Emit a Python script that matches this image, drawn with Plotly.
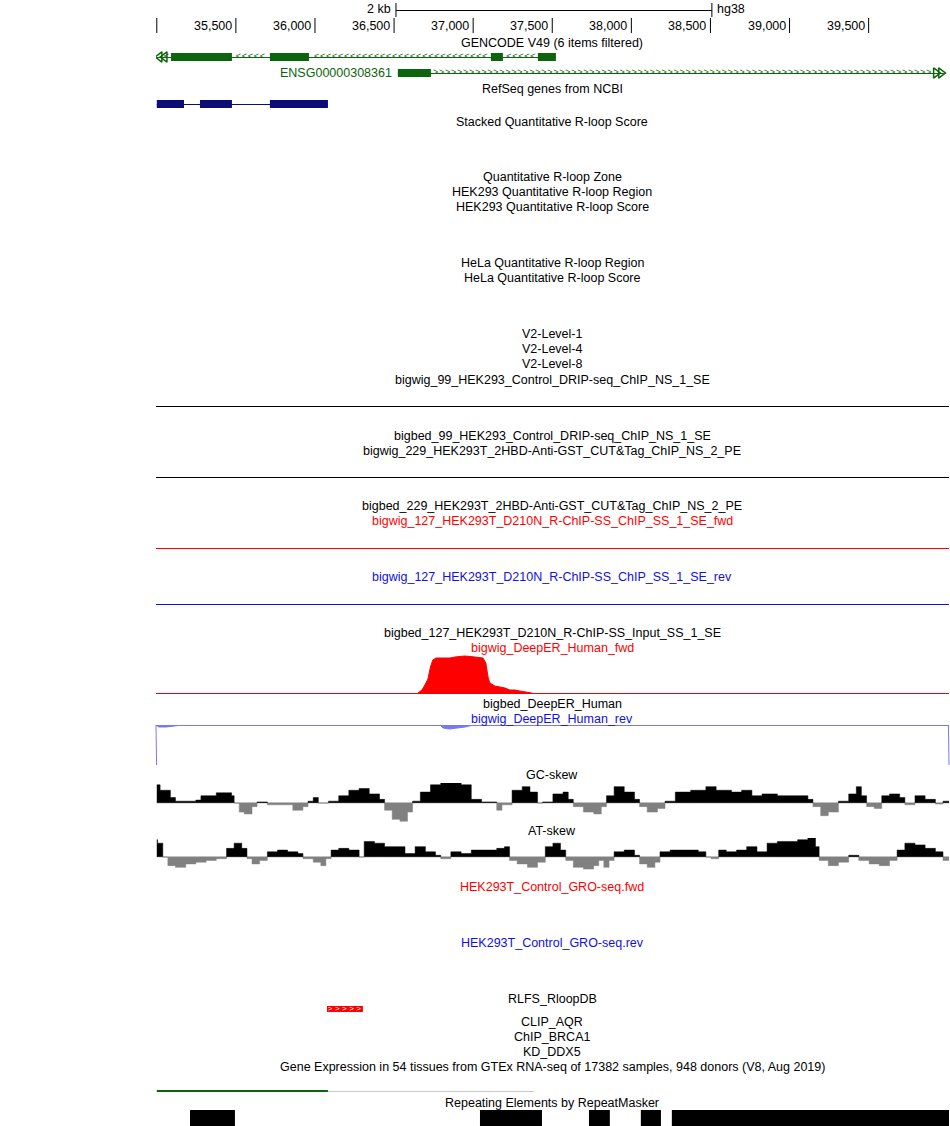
import numpy as np
import plotly.graph_objects as go

W, H = 950, 1126
X0, X1 = 34995, 40008
PX0, PX1 = 156, 949

# ---------------- data ----------------
tick_pos = [35000, 35500, 36000, 36500, 37000, 37500, 38000, 38500, 39000, 39500]
tick_lab = ["", "35,500", "36,000", "36,500", "37,000", "37,500", "38,000", "38,500", "39,000", "39,500"]
scale_bar = [36512, 38509]

gencode1_span = [35000, 37523]
gencode1_exons = [[35090, 35475], [35715, 35962], [37112, 37188], [37409, 37523]]
gencode2_span = [36524, 39975]
gencode2_exons = [[36524, 36733]]
gencode2_name = "ENSG00000308361"
refseq_span = [35000, 36082]
refseq_exons = [[35000, 35172], [35273, 35475], [35715, 36082]]

deeper_fwd_x = [36651, 36676, 36695, 36714, 36730, 36745, 36765, 36790, 36853, 36885, 36948, 37011,
                37062, 37080, 37095, 37106, 37137, 37169, 37201, 37232, 37264, 37295, 37327, 37371]
deeper_fwd_y = [0, 3, 8, 14, 26, 33, 35, 35, 35, 36, 37, 36, 35, 30, 15, 10, 7, 6, 5, 3, 3, 2, 1, 0]
deeper_rev_x = [35000, 35010, 35060, 35120, 35160, 36790, 36810, 36850, 36900, 36950, 37000, 40008]
deeper_rev_y = [0, -2, -2, -1, 0, 0, -3, -4, -3, -2, 0, 0]

gc_x = [35000, 35021, 35086, 35118, 35183, 35247, 35279, 35376, 35473, 35489, 35521, 35553, 35602, 35634,
        35699, 35795, 35860, 35924, 35956, 35989, 36021, 36085, 36150, 36214, 36279, 36343, 36408, 36440,
        36488, 36537, 36585, 36617, 36666, 36730, 36795, 36859, 36924, 36988, 37053, 37117, 37149, 37182,
        37246, 37310, 37359, 37407, 37439, 37504, 37568, 37601, 37633, 37697, 37762, 37810, 37843, 37891,
        37955, 38020, 38052, 38100, 38165, 38213, 38278, 38375, 38471, 38536, 38633, 38697, 38762, 38826,
        38923, 39019, 39116, 39148, 39197, 39245, 39309, 39374, 39422, 39454, 39487, 39535, 39583, 39632,
        39696, 39729, 39793, 39857, 39922, 39970, 40008]
gc_y = [50, 35, 15, 5, 5, 8, 20, 28, 20, 0, -25, -30, -10, 3,
        -5, -5, -20, -10, 5, 15, 0, 5, 20, 35, 40, 25, 10, -20,
        -45, -50, -25, 5, 30, 50, 60, 65, 50, 10, 3, 3, -20, -5,
        35, 45, 30, 0, 3, 25, 30, 10, -10, -25, -30, -10, 20, 45,
        30, 10, -10, -25, -15, 5, 30, 35, 45, 35, 30, 35, 20, 25,
        20, 20, 10, -10, -35, -25, 5, 25, 45, 20, -10, -15, 20, 25,
        15, -5, 20, 10, -3, 5, 3]

at_x = [35000, 35005, 35038, 35070, 35118, 35183, 35247, 35312, 35376, 35441, 35489, 35537, 35570, 35602,
        35650, 35699, 35763, 35827, 35892, 35924, 35989, 36037, 36069, 36102, 36150, 36214, 36279, 36311,
        36376, 36440, 36505, 36569, 36633, 36698, 36762, 36795, 36859, 36924, 36988, 37053, 37149, 37198,
        37230, 37278, 37343, 37407, 37456, 37504, 37552, 37585, 37633, 37697, 37762, 37794, 37826, 37859,
        37891, 37955, 38020, 38052, 38100, 38149, 38181, 38245, 38342, 38423, 38471, 38504, 38552, 38600,
        38665, 38729, 38794, 38858, 38923, 38987, 39051, 39116, 39164, 39187, 39245, 39309, 39374, 39438,
        39503, 39567, 39632, 39680, 39729, 39793, 39857, 39922, 39970, 40008]
at_y = [50, 40, 0, -25, -30, -20, -15, -10, -5, 25, 40, 25, -5, -20,
        -10, 15, 20, 15, 10, -5, -15, -25, -5, 20, 25, 20, 0, 45,
        40, 30, 30, 10, 30, 15, 5, -5, 15, 10, 20, 20, 25, 30,
        -10, -20, -30, -15, 30, 40, 20, -10, -30, -35, -25, -10, -30, -10,
        15, 20, 5, -20, -30, -15, 15, 20, 20, 15, 0, -5, 20, 15,
        20, 30, 15, 40, 45, 45, 50, 55, 30, -10, -25, -15, 5, -10,
        -20, -25, -10, 20, 40, 35, 25, 15, -10, -5]

rlfs = [[36076, 36303]]
gtex_green = [35000, 36082]
gtex_gray = [36082, 37384]
repeats = [[35210, 35494], [37043, 37435], [37732, 37864], [38060, 38187], [38256, 40008]]

labels = [
    (43, "GENCODE V49 (6 items filtered)", "black"),
    (89, "RefSeq genes from NCBI", "black"),
    (122, "Stacked Quantitative R-loop Score", "black"),
    (177, "Quantitative R-loop Zone", "black"),
    (192, "HEK293 Quantitative R-loop Region", "black"),
    (207, "HEK293 Quantitative R-loop Score", "black"),
    (263, "HeLa Quantitative R-loop Region", "black"),
    (278, "HeLa Quantitative R-loop Score", "black"),
    (334, "V2-Level-1", "black"),
    (349, "V2-Level-4", "black"),
    (364, "V2-Level-8", "black"),
    (380, "bigwig_99_HEK293_Control_DRIP-seq_ChIP_NS_1_SE", "black"),
    (436, "bigbed_99_HEK293_Control_DRIP-seq_ChIP_NS_1_SE", "black"),
    (451, "bigwig_229_HEK293T_2HBD-Anti-GST_CUT&Tag_ChIP_NS_2_PE", "black"),
    (506, "bigbed_229_HEK293T_2HBD-Anti-GST_CUT&Tag_ChIP_NS_2_PE", "black"),
    (521, "bigwig_127_HEK293T_D210N_R-ChIP-SS_ChIP_SS_1_SE_fwd", "red"),
    (577, "bigwig_127_HEK293T_D210N_R-ChIP-SS_ChIP_SS_1_SE_rev", "#1010e0"),
    (633, "bigbed_127_HEK293T_D210N_R-ChIP-SS_Input_SS_1_SE", "black"),
    (648, "bigwig_DeepER_Human_fwd", "red"),
    (704, "bigbed_DeepER_Human", "black"),
    (719, "bigwig_DeepER_Human_rev", "#1010e0"),
    (775, "GC-skew", "black"),
    (831, "AT-skew", "black"),
    (887, "HEK293T_Control_GRO-seq.fwd", "red"),
    (943, "HEK293T_Control_GRO-seq.rev", "#1010e0"),
    (999, "RLFS_RloopDB", "black"),
    (1022, "CLIP_AQR", "black"),
    (1037, "ChIP_BRCA1", "black"),
    (1052, "KD_DDX5", "black"),
    (1067, "Gene Expression in 54 tissues from GTEx RNA-seq of 17382 samples, 948 donors (V8, Aug 2019)", "black"),
    (1103, "Repeating Elements by RepeatMasker", "black"),
]
hlines = [(406, "black"), (477, "black"), (548, "red"), (604, "#1010e0")]

# ---------------- figure ----------------
FONT = "Liberation Sans"
FS = 12.5
GREEN = "#0c640c"
NAVY = "#0c0c78"

def dom(top_px, bot_px):
    return [(H - bot_px) / H, (H - top_px) / H]

fig = go.Figure()
shapes, anns = [], []

def rect(x0, x1, y0, y1, color, layer="above"):
    shapes.append(dict(type="rect", xref="x", yref="y", x0=x0, x1=x1, y0=y0, y1=y1,
                       fillcolor=color, line=dict(width=0), layer=layer))

def seg(x0, x1, y0, y1, color, width=1, xref="x"):
    off = 0.5 if y0 == y1 and width == 1 else 0
    shapes.append(dict(type="line", xref=xref, yref="y", x0=x0, x1=x1, y0=y0 + off, y1=y1 + off,
                       line=dict(color=color, width=width), layer="above"))

# scale bar
seg(scale_bar[0], scale_bar[1], 10, 10, "black")
seg(scale_bar[0], scale_bar[0], 3, 17, "black")
seg(scale_bar[1], scale_bar[1], 3, 17, "black")
anns.append(dict(x=scale_bar[0], y=9, xref="x", yref="y", text="2 kb", xanchor="right", xshift=-3,
                 showarrow=False, font=dict(size=FS, color="black", family=FONT)))
anns.append(dict(x=scale_bar[1], y=9, xref="x", yref="y", text="hg38", xanchor="left", xshift=3,
                 showarrow=False, font=dict(size=FS, color="black", family=FONT)))
for p, l in zip(tick_pos, tick_lab):
    seg(p, p, 18, 33, "black")
    if l:
        anns.append(dict(x=p, y=26, xref="x", yref="y", text=l, xanchor="right", xshift=-2,
                         showarrow=False, font=dict(size=FS, color="black", family=FONT)))

# GENCODE gene 1 (minus strand)
seg(gencode1_span[0], gencode1_span[1], 57, 57, GREEN)
for a, b in gencode1_exons:
    rect(a, b, 53, 61, GREEN)
cx = np.arange(gencode1_span[0] + 60, gencode1_span[1], 38)
cx = [c for c in cx if not any(a - 15 < c < b + 15 for a, b in gencode1_exons)]
fig.add_trace(go.Scatter(x=cx, y=[57] * len(cx), mode="text", text=["<"] * len(cx),
                         textfont=dict(size=9, color=GREEN, family=FONT), hoverinfo="skip", showlegend=False))
fig.add_trace(go.Scatter(x=[gencode1_span[0] + 18, gencode1_span[0] + 50], y=[57, 57], mode="markers",
                         marker=dict(symbol="triangle-left-open", size=9, color=GREEN, line=dict(width=1.5)),
                         hoverinfo="skip", showlegend=False))

# GENCODE gene 2 (plus strand)
seg(gencode2_span[0], gencode2_span[1], 73, 73, GREEN)
for a, b in gencode2_exons:
    rect(a, b, 69, 77, GREEN)
cx2 = np.arange(gencode2_exons[0][1] + 30, gencode2_span[1] - 80, 38)
fig.add_trace(go.Scatter(x=cx2, y=[73] * len(cx2), mode="text", text=[">"] * len(cx2),
                         textfont=dict(size=9, color=GREEN, family=FONT), hoverinfo="skip", showlegend=False))
fig.add_trace(go.Scatter(x=[gencode2_span[1] - 50, gencode2_span[1] - 18], y=[73, 73], mode="markers",
                         marker=dict(symbol="triangle-right-open", size=9, color=GREEN, line=dict(width=1.5)),
                         hoverinfo="skip", showlegend=False))
anns.append(dict(x=gencode2_span[0], y=73, xref="x", yref="y", text=gencode2_name, xanchor="right",
                 xshift=-4, showarrow=False, font=dict(size=FS, color=GREEN, family=FONT)))

# RefSeq
seg(refseq_span[0], refseq_span[1], 104, 104, NAVY)
for a, b in refseq_exons:
    rect(a, b, 100, 108, NAVY)

# horizontal separator lines
for y, c in hlines:
    seg(0, 1, y, y, c, xref="x domain")

# DeepER fwd
fig.add_trace(go.Scatter(x=deeper_fwd_x, y=deeper_fwd_y, mode="lines", fill="tozeroy",
                         fillcolor="red", line=dict(color="red", width=1),
                         yaxis="y2", hoverinfo="skip", showlegend=False))
seg(0, 1, 693, 693, "red", xref="x domain")
# DeepER rev
fig.add_trace(go.Scatter(x=deeper_rev_x, y=deeper_rev_y, mode="lines", fill="tozeroy",
                         fillcolor="#7878f0", line=dict(color="#7878f0", width=1),
                         yaxis="y3", hoverinfo="skip", showlegend=False))
seg(0, 1, 725, 725, "#7878f0", xref="x domain")
seg(0, 0.0007, 725, 765, "#7878f0", xref="x domain")
seg(0.9993, 1, 725, 765, "#7878f0", xref="x domain")

# GC / AT skew
for xs, ys, ax in [(gc_x, gc_y, "y4"), (at_x, at_y, "y5")]:
    yv = np.array(ys, dtype=float)
    fig.add_trace(go.Scatter(x=xs, y=np.maximum(yv, 0), mode="lines", fill="tozeroy", fillcolor="black",
                             line=dict(color="black", width=0.5, shape="hv"), yaxis=ax,
                             hoverinfo="skip", showlegend=False))
    fig.add_trace(go.Scatter(x=xs, y=np.minimum(yv, 0), mode="lines", fill="tozeroy", fillcolor="#808080",
                             line=dict(color="#808080", width=0.5, shape="hv"), yaxis=ax,
                             hoverinfo="skip", showlegend=False))

# RLFS
for a, b in rlfs:
    rect(a, b, 1006, 1012, "red", layer="below")
    rx = np.arange(a + 20, b, 45)
    fig.add_trace(go.Scatter(x=rx, y=[1009] * len(rx), mode="text", text=[">"] * len(rx),
                             textfont=dict(size=8, color="white", family=FONT), hoverinfo="skip",
                             showlegend=False))

# GTEx
seg(gtex_gray[0], gtex_gray[1], 1091, 1091, "#c8c8c8", 1)
seg(gtex_green[0], gtex_green[1], 1091, 1091, "#0c640c", 2)

# RepeatMasker
for a, b in repeats:
    rect(a, b, 1110, 1126, "black")

for y, t, c in labels:
    anns.append(dict(x=552 / W, y=y, xref="paper", yref="y", text=t, showarrow=False,
                     font=dict(size=FS, color=c, family=FONT)))

ax_common = dict(visible=False, fixedrange=True, anchor="x")
fig.update_layout(
    width=W, height=H, margin=dict(l=0, r=0, t=0, b=0),
    paper_bgcolor="white", plot_bgcolor="rgba(0,0,0,0)",
    xaxis=dict(range=[X0, X1], domain=[PX0 / W, PX1 / W], visible=False, fixedrange=True),
    yaxis=dict(range=[H, 0], domain=[0, 1], **ax_common),
    yaxis2=dict(range=[0, 40], domain=dom(653, 693), **ax_common),
    yaxis3=dict(range=[-40, 0], domain=dom(725, 765), **ax_common),
    yaxis4=dict(range=[-55, 55], domain=dom(783, 823), **ax_common),
    yaxis5=dict(range=[-55, 55], domain=dom(838, 876), **ax_common),
    shapes=shapes, annotations=anns,
)
fig.write_html("out.html", config={"displayModeBar": False})
with open("out.html", encoding="utf-8") as f:
    html = f.read()
html = html.replace("<head>", "<head><style>html,body{margin:0;padding:0;overflow:hidden}</style>", 1)
with open("out.html", "w", encoding="utf-8") as f:
    f.write(html)
